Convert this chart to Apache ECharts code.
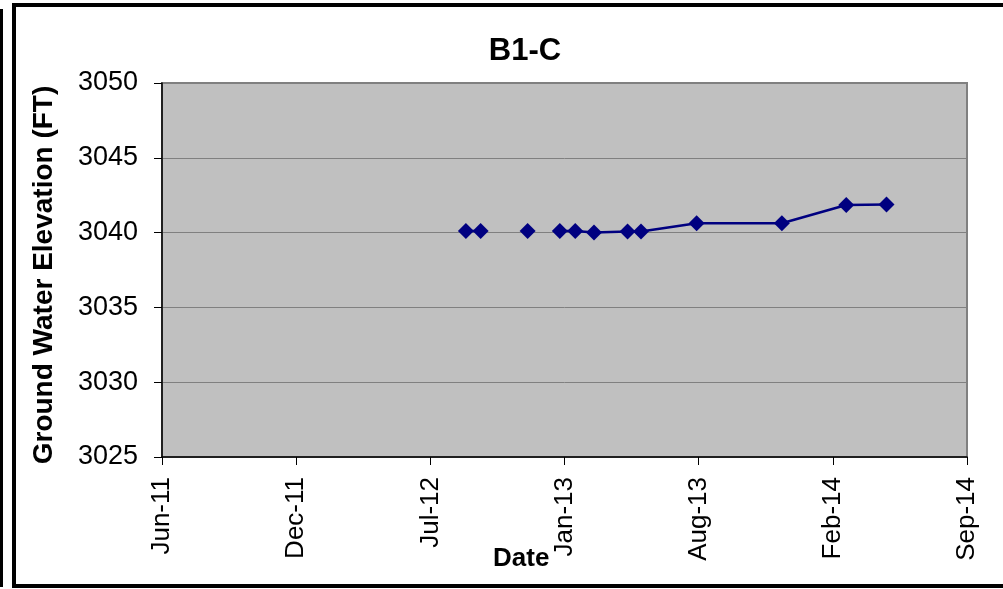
<!DOCTYPE html>
<html>
<head>
<meta charset="utf-8">
<script src="https://cdn.jsdelivr.net/npm/echarts@6/dist/echarts.min.js"></script>
<style>
html,body{margin:0;padding:0;background:#fff;}
#c{width:1003px;height:589px;}
</style>
</head>
<body>
<div id="c"></div>
<script>
// Data
var axisOriginDate = '2011-06-01';
var dates = ['2012-08-27','2012-09-18',null,'2012-11-27',null,'2013-01-14','2013-02-06','2013-03-06','2013-04-25','2013-05-15','2013-08-06','2013-12-11','2014-03-17','2014-05-16'];
var elevations = [3040.1,3040.1,null,3040.1,null,3040.1,3040.1,3040.0,3040.07,3040.07,3040.62,3040.62,3041.85,3041.87];
var xTickStepDays = 200;
var xMaxDays = 1200;
var yTicks = [3025,3030,3035,3040,3045,3050];
var monthNames = ['Jan','Feb','Mar','Apr','May','Jun','Jul','Aug','Sep','Oct','Nov','Dec'];

function toUTC(s){var p=s.split('-');return Date.UTC(+p[0],+p[1]-1,+p[2]);}
var origin = toUTC(axisOriginDate);
var DAY = 86400000;
var seriesData = [];
for (var i=0;i<dates.length;i++){
  if (dates[i]===null){ seriesData.push([null,'-']); continue; }
  seriesData.push([(toUTC(dates[i])-origin)/DAY, elevations[i]]);
}
function fmt(d){
  var dt = new Date(origin + d*DAY);
  var yy = String(dt.getUTCFullYear()%100); if (yy.length<2) yy='0'+yy;
  return monthNames[dt.getUTCMonth()]+'-'+yy;
}

var chart = echarts.init(document.getElementById('c'), null, {renderer:'canvas'});
var font = 'Liberation Sans, Arial, sans-serif';
chart.setOption({
  animation:false,
  backgroundColor:'#ffffff',
  title:{text:'B1-C', left:520, top:31, textAlign:'center',
    textStyle:{fontFamily:font,fontSize:31,fontWeight:'bold',color:'#000'}},
  grid:{left:162, right:36, top:83, bottom:132, show:true,
    backgroundColor:'#C0C0C0', borderColor:'#808080', borderWidth:2},
  xAxis:{type:'value', min:0, max:xMaxDays, interval:xTickStepDays,
    axisLine:{show:true,onZero:false,lineStyle:{color:'#000',width:1.5}},
    axisTick:{show:true,length:8,lineStyle:{color:'#000',width:1}},
    splitLine:{show:false},
    axisLabel:{rotate:90, margin:20, color:'#000', fontFamily:font, fontSize:26, formatter:fmt}
  },
  yAxis:{type:'value', min:yTicks[0], max:yTicks[yTicks.length-1], interval:yTicks[1]-yTicks[0],
    name:'Ground Water Elevation (FT)', nameLocation:'middle', nameGap:104,
    nameTextStyle:{fontFamily:font,fontSize:28,fontWeight:'bold',color:'#000',padding:[0,10,0,0]},
    axisLine:{show:true,lineStyle:{color:'#000',width:1.5}},
    axisTick:{show:true,length:8,lineStyle:{color:'#000',width:1}},
    splitLine:{show:true,lineStyle:{color:'#808080',width:1}},
    axisLabel:{margin:24,color:'#000',fontFamily:font,fontSize:27,formatter:function(v){return String(v);}}
  },
  graphic:[
    {type:'rect', shape:{x:14,y:5,width:1100,height:581}, style:{fill:null,stroke:'#000',lineWidth:4}, silent:true},
    {type:'rect', shape:{x:0,y:9,width:3,height:578}, style:{fill:'#000'}, silent:true},
    {type:'text', left:493, top:546, style:{text:'Date', fontFamily:font, fontSize:26, fontWeight:'bold', fill:'#000'}}
  ],
  series:[{
    type:'line', data:seriesData, connectNulls:false,
    symbol:'diamond', symbolSize:16, showAllSymbol:true,
    lineStyle:{color:'#000080',width:2.5},
    itemStyle:{color:'#000080'}
  }]
});
</script>
</body>
</html>
